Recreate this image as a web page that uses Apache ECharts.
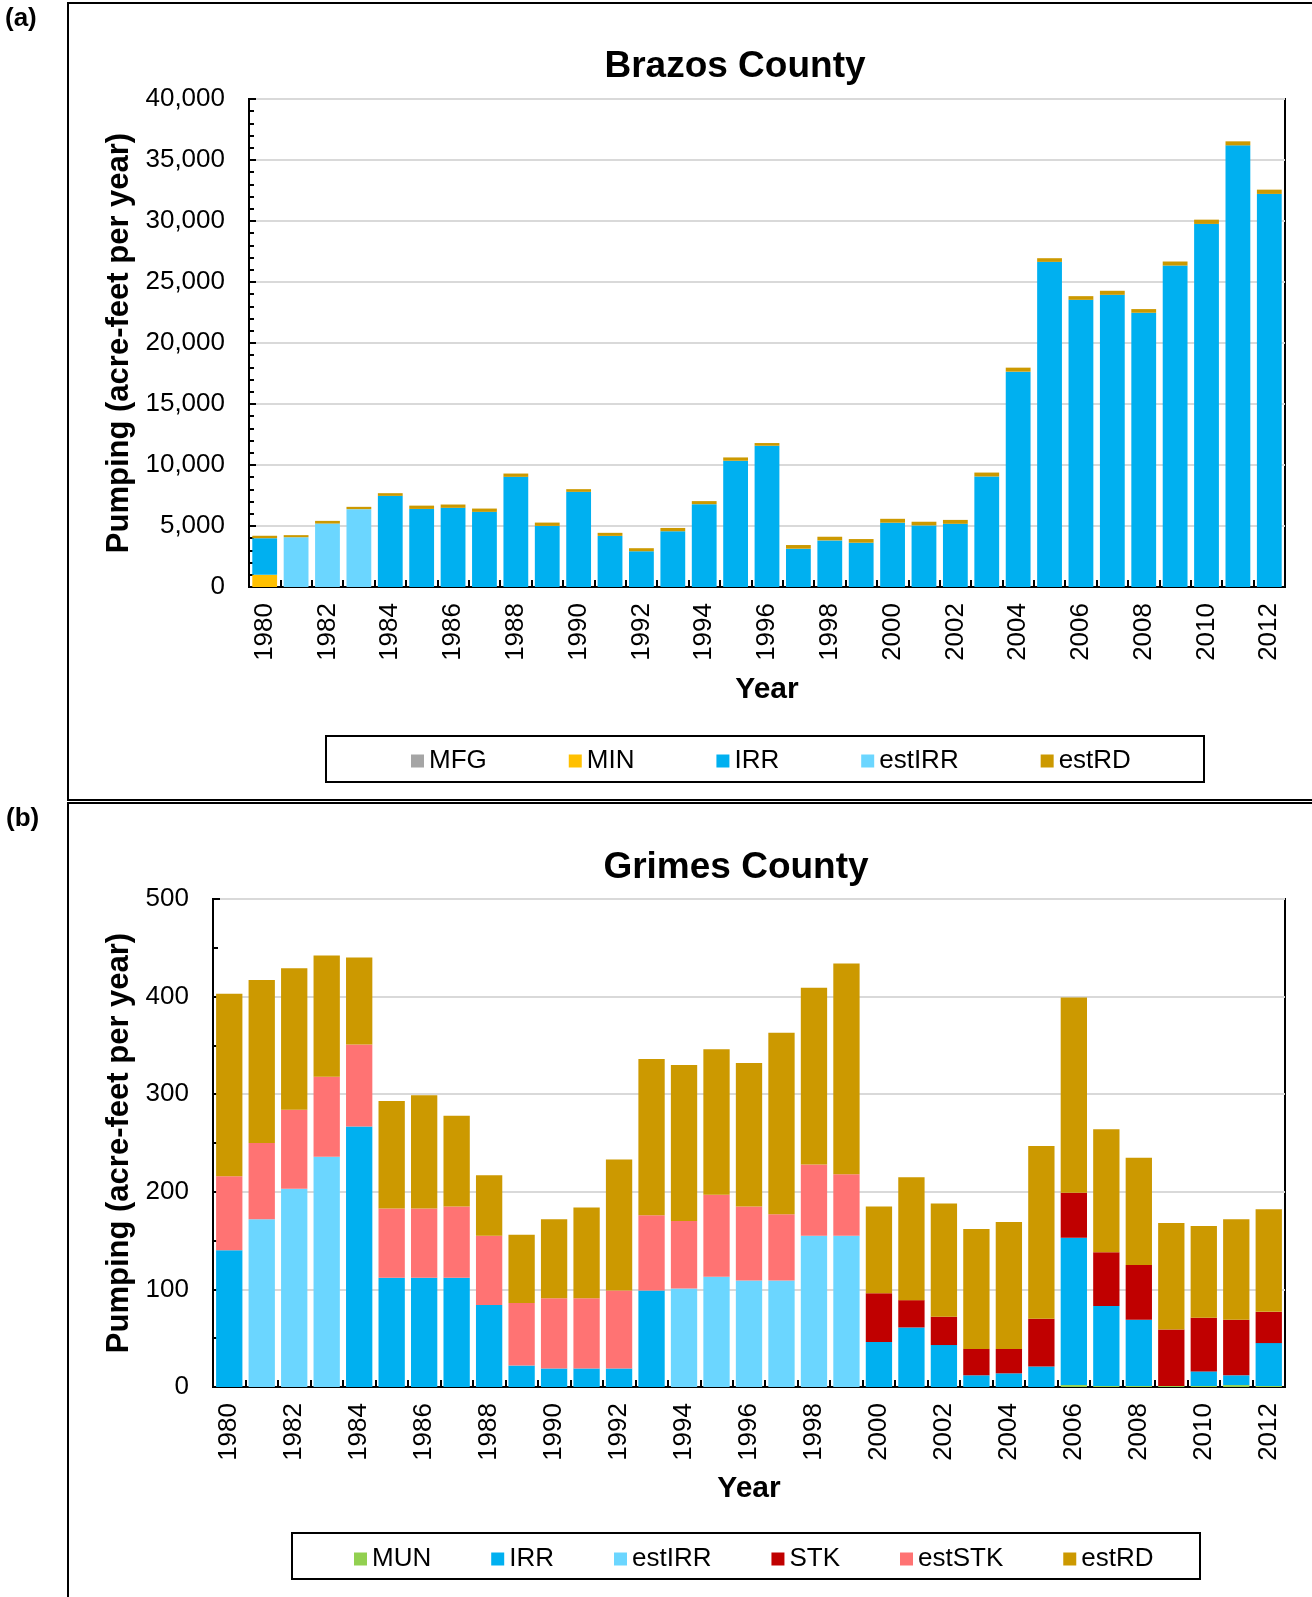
<!DOCTYPE html>
<html><head><meta charset="utf-8">
<script src="https://cdn.jsdelivr.net/npm/echarts@6/dist/echarts.min.js"></script>
<style>html,body{margin:0;padding:0;background:#fff}#c{width:1312px;height:1597px}</style>
</head><body><div id="c"></div><script>
const years = ['1980','1981','1982','1983','1984','1985','1986','1987','1988','1989','1990','1991','1992','1993','1994','1995','1996','1997','1998','1999','2000','2001','2002','2003','2004','2005','2006','2007','2008','2009','2010','2011','2012'];

// (a) Brazos County
const brazosMFG    = [0,0,0,0,0,0,0,0,0,0,0,0,0,0,0,0,0,0,0,0,0,0,0,0,0,0,0,0,0,0,0,0,0];
const brazosMIN    = [1000,0,0,0,0,0,0,0,0,0,0,0,0,0,0,0,0,0,0,0,0,0,0,0,0,0,0,0,0,0,0,0,0];
const brazosIRR    = [3000,0,0,0,7470,6400,6490,6160,9030,5010,7800,4190,2930,4570,6790,10350,11580,3140,3820,3630,5270,5050,5180,9060,17650,26650,23540,23950,22480,26350,29760,36200,32220];
const brazosEstIRR = [0,4080,5200,6380,0,0,0,0,0,0,0,0,0,0,0,0,0,0,0,0,0,0,0,0,0,0,0,0,0,0,0,0,0];
const brazosEstRD  = [200,170,220,190,220,270,270,270,270,270,220,250,250,270,250,270,220,300,300,300,320,300,320,320,330,300,300,330,300,330,350,330,350];
const brazosTicks  = [0,5000,10000,15000,20000,25000,30000,35000,40000];

// (b) Grimes County
const grimesMUN    = [0,0,0,0,0,0,0,0,0,0,0,0,0,0,0,0,0,0,0,0,0,0,0,0,0,0,2,1,1,1,1,2,1];
const grimesIRR    = [140,0,0,0,267,112,112,112,84,22,19,19,19,99,0,0,0,0,0,0,46,61,43,12,14,21,151,82,68,0,15,10,44];
const grimesEstIRR = [0,172,203,236,0,0,0,0,0,0,0,0,0,0,101,113,109,109,155,155,0,0,0,0,0,0,0,0,0,0,0,0,0];
const grimesSTK    = [0,0,0,0,0,0,0,0,0,0,0,0,0,0,0,0,0,0,0,0,50,28,29,27,25,49,46,55,56,58,55,57,32];
const grimesEstSTK = [76,78,81,82,84,71,71,73,71,64,72,72,80,77,69,84,76,68,73,63,0,0,0,0,0,0,0,0,0,0,0,0,0];
const grimesEstRD  = [187,167,145,124,89,110,116,93,62,70,81,93,134,160,160,149,147,186,181,216,89,126,116,123,130,177,200,126,110,109,94,103,105];
const grimesTicks  = [0,100,200,300,400,500];

const FONT = '"Liberation Sans", Arial, Helvetica, sans-serif';
const COL = {MFG:'#A5A5A5', MIN:'#FFC000', IRR:'#00B0F0', estIRR:'#6BD6FF', estRD:'#CC9900', MUN:'#92D050', STK:'#C00000', estSTK:'#FF7373'};

function xAx(gi, gap){
  return {
    type:'category', gridIndex:gi, data:years,
    axisLine:{show:true, lineStyle:{color:'#000', width:2}},
    axisTick:{show:true, inside:true, length:7, interval:0, alignWithLabel:false, lineStyle:{color:'#000', width:2}},
    axisLabel:{interval:1, rotate:90, fontSize:26, color:'#000', margin:16, fontFamily:FONT},
    name:'Year', nameLocation:'middle', nameGap:gap,
    nameTextStyle:{fontSize:30, fontWeight:'bold', color:'#000', fontFamily:FONT}
  };
}
function yAx(gi, ticks, minorSplit, nameGap){
  return {
    type:'value', gridIndex:gi, min:ticks[0], max:ticks[ticks.length-1], interval:ticks[1]-ticks[0],
    axisLine:{show:true, lineStyle:{color:'#000', width:2}},
    axisTick:{show:true, inside:true, length:7, lineStyle:{color:'#000', width:2}},
    minorTick:{show:true, splitNumber:minorSplit, length:5, lineStyle:{color:'#000', width:2}},
    splitLine:{show:true, lineStyle:{color:'#d9d9d9', width:2}},
    axisLabel:{fontSize:26, color:'#000', margin:24, fontFamily:FONT,
      formatter:v=>Number(v).toLocaleString('en-US')},
    name:'Pumping (acre-feet per year)', nameLocation:'middle', nameGap:nameGap, nameRotate:90,
    nameTextStyle:{fontSize:31, fontWeight:'bold', color:'#000', fontFamily:FONT}
  };
}
function bar(name, data, gi, stack, gap){
  return {type:'bar', name:name, data:data, xAxisIndex:gi, yAxisIndex:gi, stack:stack,
    barCategoryGap:gap, itemStyle:{color:COL[name]}, emphasis:{disabled:true}, animation:false};
}
const legendCommon = {icon:'rect', itemWidth:13, itemHeight:13, padding:0, selectedMode:false, orient:'horizontal',
  textStyle:{fontSize:26, color:'#000', fontFamily:FONT}};

const option = {
  animation:false,
  backgroundColor:'#fff',
  textStyle:{fontFamily:FONT},
  grid:[
    {left:249, top:99, width:1036, height:488, show:true, borderColor:'#000', borderWidth:2, backgroundColor:'transparent'},
    {left:213, top:899, width:1072, height:488, show:true, borderColor:'#000', borderWidth:2, backgroundColor:'transparent'}
  ],
  xAxis:[xAx(0,88), xAx(1,87)],
  yAxis:[yAx(0, brazosTicks, 5, 113), yAx(1, grimesTicks, 2, 77)],
  legend:[
    Object.assign({}, legendCommon, {data:['MFG','MIN','IRR','estIRR','estRD'], left:411, top:748, itemGap:82}),
    Object.assign({}, legendCommon, {data:['MUN','IRR','estIRR','STK','estSTK','estRD'], left:354, top:1546, itemGap:60})
  ],
  series:[
    bar('MFG', brazosMFG, 0, 'a', '21%'),
    bar('MIN', brazosMIN, 0, 'a', '21%'),
    bar('IRR', brazosIRR, 0, 'a', '21%'),
    bar('estIRR', brazosEstIRR, 0, 'a', '21%'),
    bar('estRD', brazosEstRD, 0, 'a', '21%'),
    bar('MUN', grimesMUN, 1, 'b', '19%'),
    bar('IRR', grimesIRR, 1, 'b', '19%'),
    bar('estIRR', grimesEstIRR, 1, 'b', '19%'),
    bar('STK', grimesSTK, 1, 'b', '19%'),
    bar('estSTK', grimesEstSTK, 1, 'b', '19%'),
    bar('estRD', grimesEstRD, 1, 'b', '19%')
  ],
  graphic:[
    {type:'rect', silent:true, shape:{x:68, y:3, width:1300, height:797}, style:{fill:'none', stroke:'#000', lineWidth:2}},
    {type:'rect', silent:true, shape:{x:68, y:803, width:1300, height:850}, style:{fill:'none', stroke:'#000', lineWidth:2}},
    {type:'rect', silent:true, shape:{x:326, y:736, width:878, height:46}, style:{fill:'none', stroke:'#000', lineWidth:2}},
    {type:'rect', silent:true, shape:{x:292, y:1533, width:908, height:46}, style:{fill:'none', stroke:'#000', lineWidth:2}},
    {type:'text', silent:true, x:5, y:19, style:{text:'(a)', fontSize:26, fontWeight:'bold', fontFamily:FONT, fill:'#000', align:'left', verticalAlign:'middle'}},
    {type:'text', silent:true, x:6, y:819, style:{text:'(b)', fontSize:26, fontWeight:'bold', fontFamily:FONT, fill:'#000', align:'left', verticalAlign:'middle'}},
    {type:'text', silent:true, x:735, y:67, style:{text:'Brazos County', fontSize:37, fontWeight:'bold', fontFamily:FONT, fill:'#000', align:'center', verticalAlign:'middle'}},
    {type:'text', silent:true, x:736, y:868, style:{text:'Grimes County', fontSize:37, fontWeight:'bold', fontFamily:FONT, fill:'#000', align:'center', verticalAlign:'middle'}}
  ]
};
const chart = echarts.init(document.getElementById('c'), null, {renderer:'canvas', width:1312, height:1597});
chart.setOption(option);
</script></body></html>
